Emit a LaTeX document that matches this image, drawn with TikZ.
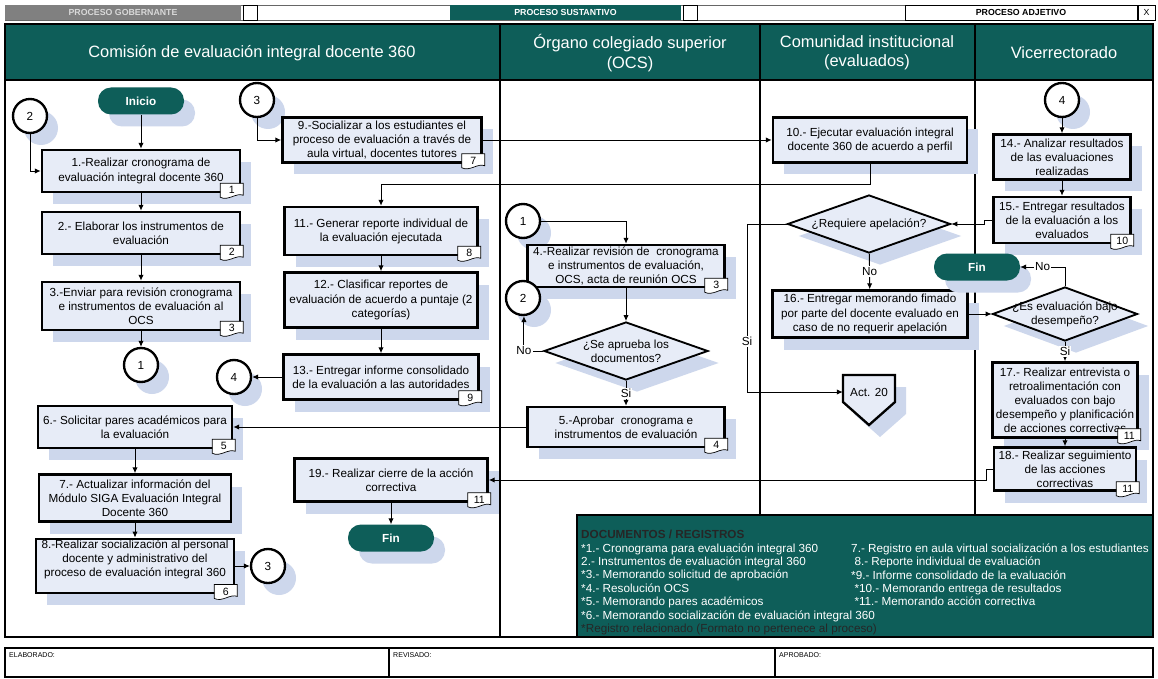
\documentclass[tikz,border=0pt]{standalone}
\usepackage{fontspec}
\setmainfont{Liberation Sans}
\usetikzlibrary{arrows.meta,shapes.geometric,shadows}

\definecolor{tealhead}{RGB}{14,94,89}
\definecolor{boxfill}{RGB}{231,236,247}
\definecolor{shadowblue}{RGB}{205,215,236}
\definecolor{barGray}{RGB}{128,128,128}

\def\pxu{0.03cm}
\newcommand{\bxfont}{\fontsize{10}{12}\selectfont}
\newcommand{\hdfont}{\fontsize{14}{16.5}\selectfont}
\newcommand{\smfont}{\fontsize{7.5}{9}\selectfont\bfseries}
\newcommand{\docfont}{\fontsize{10}{11.45}\selectfont}
\newcommand{\ftfont}{\fontsize{6}{7}\selectfont}

% document tab at the lower right corner of a box
\newcommand{\doctab}[2]{%
  \begin{scope}[shift={(#1.south east)}]
    \draw[line width=0.6pt, fill=white] (-21,-10) -- (2,-10) -- (2,2) .. controls (-5,-1) and (-13,8) .. (-21,4) -- cycle;
    \node[font=\fontsize{9}{10}\selectfont, inner sep=0pt] (#1tab) at (-9.5,-3) {#2};
  \end{scope}}

\tikzset{
  shade box/.style={drop shadow={shadow xshift=11*\pxu, shadow yshift=-12*\pxu, fill=shadowblue, opacity=1}},
  proc/.style={draw, line width=2.2pt, fill=boxfill, align=center, inner sep=1pt, font=\bxfont, shade box},
  decision/.style={diamond, draw, line width=1.6pt, fill=boxfill, inner sep=0pt, shade box},
  conn/.style={circle, draw, line width=2pt, fill=white, minimum size=34*\pxu, inner sep=0pt, font=\bxfont, shade box},
  term/.style={rounded corners=13*\pxu, fill=tealhead, text=white, font=\bxfont\bfseries, minimum width=86*\pxu, minimum height=27*\pxu, shade box},
  arr/.style={line width=0.8pt, -{Latex[length=5pt,width=4.5pt]}},
  lbl/.style={fill=white, inner sep=1pt, font=\bxfont},
  barcell/.style={minimum height=15*\pxu, inner sep=0pt, font=\smfont},
  headtext/.style={text=white, font=\hdfont, align=center},
}

\begin{document}
\begin{tikzpicture}[x=0.03cm, y=-0.03cm]
  \fill[white] (0,0) rectangle (1158,679);
  \useasboundingbox (0,0) rectangle (1158,679);

  % Top bar
  \draw[line width=0.5pt, black!60] (5,5) rectangle (1155,20);
  \node[barcell, fill=barGray, text=black!15, minimum width=236*\pxu] (gob) at (123,12.5) {PROCESO GOBERNANTE};
  \node[barcell, draw, fill=white, line width=0.5pt, minimum width=14*\pxu] (gobx) at (250,12.5) {};
  \node[barcell, fill=tealhead, text=white, minimum width=231*\pxu] (sus) at (565.5,12.5) {PROCESO SUSTANTIVO};
  \node[barcell, draw, fill=white, line width=0.5pt, minimum width=14*\pxu] (susx) at (690,12.5) {};
  \node[barcell, draw, fill=white, line width=0.5pt, minimum width=232*\pxu] (adj) at (1021,12.5) {PROCESO ADJETIVO};
  \node[barcell, draw, fill=white, line width=0.5pt, minimum width=17*\pxu, font=\smfont\mdseries] (adjx) at (1146.5,12.5) {X};

  % Lanes
  \fill[tealhead] (5,24) rectangle (1153,80);
  \draw[line width=2.5pt] (5,24) rectangle (1153,637);
  \draw[line width=2.5pt] (5,80) -- (1153,80);
  \draw[line width=2.5pt] (500,24) -- (500,637);
  \draw[line width=2.5pt] (760,24) -- (760,515);
  \draw[line width=2.5pt] (975,24) -- (975,515);
  \node[headtext] (laneA) at (252,53) {Comisión de evaluación integral docente 360};
  \node[headtext] (laneB) at (630,53) {Órgano colegiado superior\\(OCS)};
  \node[headtext] (laneC) at (867,53) {Comunidad institucional\\(evaluados)};
  \node[headtext] (laneD) at (1064,53) {Vicerrectorado};

  % Documents box
  \draw[fill=tealhead, line width=1.5pt] (577,515) rectangle (1153,637);
  \node[anchor=north west, align=left, font=\docfont, text=white, inner sep=0pt] (docsL) at (581,530)
    {\textcolor{black!85}{\bfseries DOCUMENTOS / REGISTROS}\\
     *1.- Cronograma para evaluación integral 360\\
     2.- Instrumentos de evaluación integral 360\\
     *3.- Memorando solicitud de aprobación\\
     *4.- Resolución OCS\\
     *5.- Memorando pares académicos\\
     *6.- Memorando socialización de evaluación integral 360\\
     \textcolor{black!85}{*Registro relacionado (Formato no pertenece al proceso)}};
  \node[anchor=north west, align=left, font=\docfont, text=white, inner sep=0pt] (docsR) at (851,543.4)
    {7.- Registro en aula virtual socialización a los estudiantes\\
     \ 8.- Reporte individual de evaluación\\
     *9.- Informe consolidado de la evaluación\\
     \ *10.- Memorando entrega de resultados\\
     \ *11.- Memorando acción correctiva};

  % Footer
  \draw[line width=2pt] (5,648) rectangle (1153,677);
  \draw[line width=1.2pt] (389,648) -- (389,677);
  \draw[line width=1.2pt] (775,648) -- (775,677);
  \node[anchor=north west, font=\ftfont, inner sep=0pt] (elab) at (9,652) {ELABORADO:};
  \node[anchor=north west, font=\ftfont, inner sep=0pt] (revi) at (393,652) {REVISADO:};
  \node[anchor=north west, font=\ftfont, inner sep=0pt] (apro) at (779,652) {APROBADO:};

  % Lane 1: Comision
  \node[term] (inicio) at (141,101) {Inicio};
  \node[conn] (c2a) at (30,116) {2};
  \node[proc, minimum width=198*\pxu, minimum height=42*\pxu] (box1) at (141,171) {1.-Realizar cronograma de\\evaluación integral docente 360};
  \node[proc, minimum width=198*\pxu, minimum height=42*\pxu] (box2) at (141,233) {2.- Elaborar los instrumentos de\\evaluación};
  \node[proc, minimum width=198*\pxu, minimum height=48*\pxu] (box3) at (141,306) {3.-Enviar para revisión cronograma\\e instrumentos de evaluación al\\OCS};
  \node[conn] (c1a) at (141,365) {1};
  \node[conn] (c4a) at (234,377) {4};
  \node[proc, minimum width=194*\pxu, minimum height=42*\pxu] (box6) at (135,427) {6.- Solicitar pares académicos para\\la evaluación};
  \node[proc, minimum width=192*\pxu, minimum height=47*\pxu] (box7) at (135,498) {7.- Actualizar información del\\Módulo SIGA Evaluación Integral\\Docente 360};
  \node[proc, minimum width=198*\pxu, minimum height=52*\pxu] (box8) at (135,566) {8.-Realizar socialización al personal\\docente y administrativo del\\proceso de evaluación integral 360\\[1pt]};
  \node[conn] (c3a) at (268,566) {3};

  \node[conn] (c3b) at (257,100) {3};
  \node[proc, minimum width=199*\pxu, minimum height=45*\pxu] (box9) at (382,140) {9.-Socializar a los estudiantes el\\proceso de evaluación a través de\\aula virtual, docentes tutores};
  \node[proc, minimum width=193*\pxu, minimum height=48*\pxu] (box11) at (381,231) {11.- Generar reporte individual de\\la evaluación ejecutada};
  \node[proc, minimum width=193*\pxu, minimum height=55*\pxu] (box12) at (381,300) {12.- Clasificar reportes de\\evaluación de acuerdo a puntaje (2\\categorías)};
  \node[proc, minimum width=195*\pxu, minimum height=45*\pxu] (box13) at (381,377) {13.- Entregar informe consolidado\\de la evaluación a las autoridades};
  \node[proc, minimum width=193*\pxu, minimum height=43*\pxu] (box19) at (391,480) {19.- Realizar cierre de la acción\\correctiva};
  \node[term] (fin1) at (391,538) {Fin};

  % Lane 2: OCS
  \node[conn] (c1b) at (523,221) {1};
  \node[proc, minimum width=197*\pxu, minimum height=42*\pxu] (box4) at (626,266) {4.-Realizar revisión de \ cronograma\\e instrumentos de evaluación,\\OCS, acta de reunión OCS};
  \node[conn] (c2b) at (523,298) {2};
  \node[decision, minimum width=164*\pxu, minimum height=58*\pxu,
        label={[align=center, font=\bxfont]center:{¿Se aprueba los\\documentos?}}] (diamA) at (626,351) {};
  \node[proc, minimum width=197*\pxu, minimum height=40*\pxu] (box5) at (626,427) {5.-Aprobar \ cronograma e\\instrumentos de evaluación};

  % Lane 3: Comunidad
  \node[proc, minimum width=194*\pxu, minimum height=45*\pxu] (box10) at (870,140) {10.- Ejecutar evaluación integral\\docente 360 de acuerdo a perfil};
  \node[decision, minimum width=163*\pxu, minimum height=58*\pxu,
        label={[font=\bxfont]center:¿Requiere apelación?}] (diamR) at (869,224) {};
  \node[proc, minimum width=195*\pxu, minimum height=47*\pxu] (box16) at (870,314) {16.- Entregar memorando fimado\\por parte del docente evaluado en\\caso de no requerir apelación};
  \draw[line width=2pt, fill=boxfill, shade box] (843,375) -- (895,375) -- (895,402) -- (869,425) -- (843,402) -- cycle;
  \node[minimum width=52*\pxu, minimum height=30*\pxu, inner sep=0pt, font=\bxfont] (act20) at (869,392) {Act. 20};

  % Lane 4: Vicerrectorado
  \node[conn] (c4b) at (1062,100) {4};
  \node[proc, minimum width=137*\pxu, minimum height=45*\pxu] (box14) at (1062,157) {14.- Analizar resultados\\de las evaluaciones\\realizadas};
  \node[proc, minimum width=137*\pxu, minimum height=46*\pxu] (box15) at (1062,220) {15.- Entregar resultados\\de la evaluación a los\\evaluados};
  \node[term] (fin2) at (977,267) {Fin};
  \node[decision, minimum width=145*\pxu, minimum height=54*\pxu,
        label={[align=center, font=\bxfont]center:{¿Es evaluación bajo\\desempeño?}}] (diamB) at (1065,314) {};
  \node[proc, minimum width=145*\pxu, minimum height=75*\pxu] (box17) at (1065,400) {17.- Realizar entrevista o\\retroalimentación con\\evaluados con bajo\\desempeño y planificación\\de acciones correctivas};
  \node[proc, minimum width=142*\pxu, minimum height=43*\pxu] (box18) at (1065,469) {18.- Realizar seguimiento\\de las acciones\\correctivas};

  % Document tabs
  \doctab{box1}{1}
  \doctab{box2}{2}
  \doctab{box3}{3}
  \doctab{box6}{5}
  \doctab{box8}{6}
  \doctab{box9}{7}
  \doctab{box11}{8}
  \doctab{box13}{9}
  \doctab{box19}{11}
  \doctab{box4}{3}
  \doctab{box5}{4}
  \doctab{box15}{10}
  \doctab{box17}{11}
  \doctab{box18}{11}

  % Connectors
  \draw[arr] (inicio) -- (box1);
  \draw[arr] (c2a) |- (box1.west);
  \draw[arr] (box1) -- (box2);
  \draw[arr] (box2) -- (box3);
  \draw[arr] (box3) -- (c1a);
  \draw[arr] (box6) -- (box7);
  \draw[arr] (box7) -- (box8);
  \draw[arr] (box8) -- (c3a);
  \draw[arr] (c3b) |- (box9.west);
  \draw[arr] (box9.east) -- (box10.west);
  \draw[arr] (box10.south) -- ++(0,21) -| (box11.north);
  \draw[arr] (box11) -- (box12);
  \draw[arr] (box12) -- (box13);
  \draw[arr] (box13) -- (c4a);
  \draw[arr] (box19) -- (fin1);
  \draw[arr] (c1b) -| (box4.north);
  \draw[arr] (box4) -- (diamA);
  \draw[line width=0.8pt] (diamA.west) -- ++(-10,0) node[left, inner sep=1pt, font=\bxfont] (noA) {No};
  \draw[arr] (noA.north) -- (noA.north |- c2b.south);
  \draw[arr] (diamA) -- node[lbl]{Si} (box5);
  \draw[arr] (box5.west) -- (box6.east);
  \draw[arr] (c4b) -- (box14);
  \draw[arr] (box14) -- (box15);
  \draw[arr] (box15.west) -- ++(-8,0) |- (diamR.east);
  \coordinate (siR) at (747,392);
  \draw[arr] (diamR.west) -| node[lbl, pos=0.85]{Si} (siR) -- (act20.west);
  \draw[arr] (diamR) -- node[lbl]{No} (box16);
  \draw[arr] (box16) -- (diamB);
  \draw[arr] (diamB.north) |- node[lbl, pos=0.75]{No} (fin2.east);
  \draw[arr] (diamB) -- node[lbl]{Si} (box17);
  \draw[arr] (box17) -- (box18);
  \draw[arr] (box18.west) -- ++(-6,0) |- (box19.east);
\end{tikzpicture}
\end{document}
